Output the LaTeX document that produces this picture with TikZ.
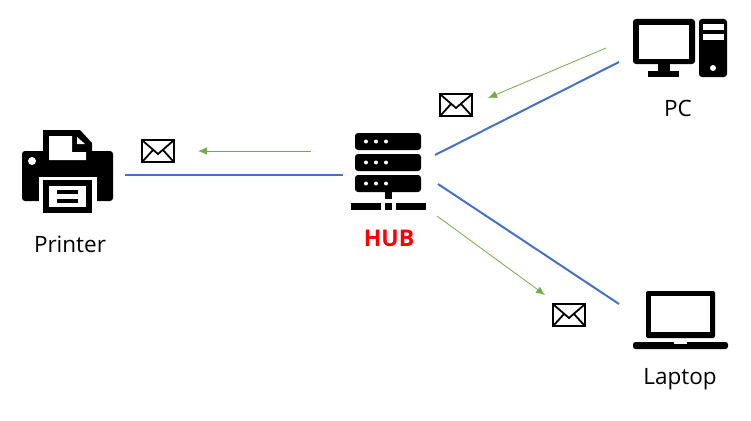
\documentclass[tikz,border=0pt]{standalone}
\usepackage{fontspec}
\setmainfont{Open Sans}
\usetikzlibrary{arrows.meta}
\definecolor{hublink}{RGB}{68,114,196}
\definecolor{hubmsg}{RGB}{112,173,71}
\definecolor{hubred}{RGB}{255,0,0}
\tikzset{
  link/.style={draw=hublink,line width=2pt},
  msgflow/.style={draw=hubmsg,line width=0.8pt,-{Latex[length=9pt,width=7.5pt]}},
  devlabel/.style={font=\fontsize{22.5}{26}\selectfont,text=black,inner sep=0pt},
  pics/mailicon/.style={code={
    \draw[line width=2.5pt,fill=white] (-16,-11) rectangle (16,11);
    \draw[line width=1.8pt] (-15,-10) -- (0,3) -- (15,-10);
    \draw[line width=1.8pt] (-15,10) -- (-5,-1);
    \draw[line width=1.8pt] (15,10) -- (5,-1);
  }}
}

\begin{document}
\begin{tikzpicture}[x=1pt,y=-1pt]
\useasboundingbox (0,0) rectangle (751,420);
% Printer
\fill[rounded corners=3pt] (22,151) rectangle (113,201);
\fill[white] (39,177) rectangle (97,205);
\fill[white] (32,161) circle (4);
\fill (43,130) -- (80,130) -- (92,143) -- (92,165) -- (43,165) -- cycle;
\fill[white] (49,136) -- (72,136) -- (72,152) -- (86,152) -- (86,160) -- (49,160) -- cycle;
\fill[white] (77,137) -- (77,144) -- (85,144) -- cycle;
\fill (43,180) rectangle (92,213);
\fill[white] (49,186) rectangle (86,207);
\fill (57,190) rectangle (78,194);
\fill (57,199) rectangle (78,203);
% Hub
\foreach \ytop in {133,154,175} {
  \fill[rounded corners=3pt] (355,\ytop) rectangle (421,\ytop+17);
  \foreach \xdot in {366,376,386}
    \fill[white] (\xdot,\ytop+8.5) circle (2);
}
\fill (385,191) rectangle (392,199);
\fill (351,203) rectangle (381,210);
\fill (385,203) rectangle (392,210);
\fill (396,203) rectangle (426,210);
% PC
\fill[rounded corners=3pt] (633,19) rectangle (695,64);
\fill[white] (639,25) rectangle (689,59);
\fill (658,64) rectangle (670,71);
\fill (648,71) rectangle (679,77);
\fill[rounded corners=3pt] (699,19) rectangle (727,77);
\fill[white] (703,24) rectangle (724,30);
\fill[white] (703,34) rectangle (724,40);
\fill[white] (713,68) circle (3);
% Laptop
\fill[rounded corners=2pt] (646,291) rectangle (715,338);
\fill[white] (651,296) rectangle (710,332);
\fill[rounded corners=2.5pt] (633,342) -- (728,342) -- (728,349) -- (633,349) -- cycle;
\fill[white] (674,342) rectangle (687,344);
% Labels
\node[devlabel] (printerlabel) at (70,244) {Printer};
\node[font=\fontsize{23}{26}\selectfont\bfseries,text=hubred,inner sep=0pt] (hublabel) at (389,238) {HUB};
\node[devlabel] (pclabel) at (678,108) {PC};
\node[devlabel] (laptoplabel) at (680,379) {Laptop};
% Link ends
\coordinate (printerport) at (125,175);
\coordinate (hubwest) at (343,175);
\coordinate (hubnorth) at (435,155);
\coordinate (pcport) at (619,62);
\coordinate (hubsouth) at (438,184);
\coordinate (laptopport) at (619,304);
\draw[link] (printerport) -- (hubwest);
\draw[link] (hubnorth) -- (pcport);
\draw[link] (hubsouth) -- (laptopport);
% Message arrows
\coordinate (msgstarta) at (311,151);
\coordinate (msgenda) at (198,151);
\coordinate (msgstartb) at (606,48);
\coordinate (msgendb) at (488,98);
\coordinate (msgstartc) at (437,216);
\coordinate (msgendc) at (545,295);
\draw[msgflow] (msgstarta) -- (msgenda);
\draw[msgflow] (msgstartb) -- (msgendb);
\draw[msgflow] (msgstartc) -- (msgendc);
% Envelopes
\pic at (158,151) {mailicon};
\pic at (456,105) {mailicon};
\pic at (569,315) {mailicon};
\end{tikzpicture}
\end{document}
